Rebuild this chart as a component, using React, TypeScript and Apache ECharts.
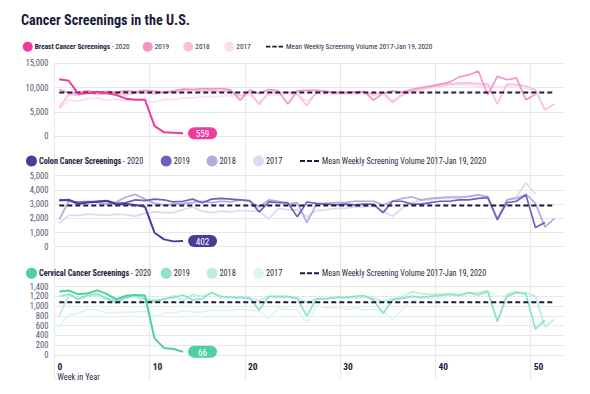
import React, { useEffect, useRef } from "react";
import * as echarts from "echarts";

const FONT = "'Roboto Condensed', 'Liberation Sans Narrow', 'DejaVu Sans Condensed', Roboto, sans-serif";
const NAVY = "#1d1a3c";
const TEXT = "#2a2745";
const GRID = "#e8e8ec";

const titleText = "Cancer Screenings in the U.S.";
const meanLabel = "Mean Weekly Screening Volume 2017-Jan 19, 2020";
const weekAxisTitle = "Week in Year";
const yearLabels = ["2020", "2019", "2018", "2017"];

// Breast cancer screenings (weekly)
const breast2020 = [11700, 11400, 8700, 8800, 9150, 8800, 8450, 7700, 7500, 7500, 2100, 750, 650, 559];
const breast2019 = [9600, 8900, 9000, 9300, 8900, 9200, 9000, 9300, 9100, 9400, 9200, 9000, 9300, 9700, 9600, 9800, 9700, 9800, 9500, 7400, 9500, 8700, 9600, 9300, 6600, 9300, 9400, 9400, 9200, 9000, 9000, 9100, 9200, 7400, 8800, 9300, 9000, 9600, 10000, 10300, 10700, 11100, 12200, 12600, 13400, 8500, 12300, 11600, 12000, 7500, 8600];
const breast2018 = [5900, 8600, 8400, 8900, 8600, 8700, 8800, 8500, 8900, 9000, 8700, 8900, 9100, 9300, 9500, 9300, 9400, 9200, 9300, 8300, 9000, 6500, 9100, 8800, 9100, 8600, 6300, 9100, 9200, 8900, 8800, 8900, 9100, 8600, 9000, 7100, 8600, 9200, 9700, 10100, 10400, 10700, 10900, 10900, 10800, 10700, 6600, 10700, 10600, 10300, 9500, 5400, 6600];
const breast2017 = [5600, 7400, 7200, 7700, 7800, 7400, 7600, 7300, 7500, 7500, 6900, 7600, 7500, 7800, 7900, 8100, 8000, 8200, 8400, 8300, 8300, 7100, 8500, 8400, 8700, 8600, 7200, 8700, 8700, 8600, 8700, 8700, 8800, 8400, 8700, 6800, 8300, 9000, 9500, 9900, 10200, 10500, 10600, 10500, 10400, 10300, 10200, 10200, 10100, 9800, 9300];
const breastMean = 8950;

// Colon cancer screenings (weekly)
const colon2020 = [3260, 3310, 3000, 3120, 3170, 3215, 2980, 3000, 2930, 2820, 985, 516, 375, 402];
const colon2019 = [3300, 3250, 3100, 3150, 3200, 3250, 3050, 3100, 3300, 3250, 3350, 3300, 3150, 3200, 3350, 3100, 3350, 3400, 3350, 3300, 3250, 2450, 3150, 3100, 3100, 2100, 3150, 3050, 3000, 2950, 3000, 2950, 3000, 3000, 2400, 3200, 3200, 3000, 3000, 3100, 3200, 3200, 3300, 3300, 3400, 3450, 1900, 3100, 3200, 3650, 1350, 1700];
const colon2018 = [1900, 3200, 3150, 3200, 3100, 3000, 3150, 3500, 3680, 3350, 3050, 2950, 3000, 3050, 3100, 3200, 3100, 3200, 3150, 3300, 3200, 2800, 3300, 3200, 3000, 3100, 1700, 3000, 3050, 3100, 3100, 3200, 3200, 3200, 2950, 3200, 3400, 3500, 3300, 3400, 3450, 3500, 3500, 3550, 3650, 3500, 1950, 3300, 3400, 3700, 3050, 1400, 2000];
const colon2017 = [1650, 2200, 2200, 2300, 2250, 2200, 2300, 2250, 2150, 2350, 2450, 2400, 2400, 2600, 2800, 2500, 2400, 2500, 2450, 2550, 2500, 2500, 1950, 2700, 2600, 2600, 2100, 2550, 2600, 2700, 2700, 2800, 2800, 2850, 2500, 2150, 2700, 3100, 3300, 3300, 3400, 3400, 3400, 3500, 3650, 3550, 2000, 3300, 3500, 4500, 3700];
const colonMean = 2900;

// Cervical cancer screenings (weekly)
const cervical2020 = [1300, 1320, 1245, 1265, 1325, 1250, 1140, 1215, 1230, 1220, 340, 143, 123, 66];
const cervical2019 = [1200, 1250, 1150, 1230, 1260, 1160, 1100, 1170, 1230, 1150, 1100, 1150, 1180, 1230, 1130, 1150, 1280, 1200, 1180, 1180, 1170, 920, 1200, 1200, 1200, 1160, 800, 1150, 1150, 1180, 1180, 1200, 1220, 1130, 850, 1130, 1160, 1200, 1180, 1200, 1220, 1240, 1220, 1280, 1230, 1300, 680, 1200, 1280, 1250, 530, 720];
const cervical2018 = [800, 1230, 1140, 1200, 1220, 1140, 1060, 1180, 1200, 1080, 1130, 1130, 1220, 1120, 1240, 1200, 1270, 1180, 1180, 1170, 1150, 1120, 1200, 1180, 1180, 1170, 1080, 1150, 1160, 1170, 1180, 1170, 1190, 1160, 1100, 1150, 1180, 1300, 1260, 1240, 1250, 1260, 1240, 1270, 1280, 1320, 690, 1250, 1300, 1270, 1200, 580, 730];
const cervical2017 = [580, 830, 850, 940, 920, 860, 870, 880, 880, 900, 780, 870, 860, 910, 880, 880, 920, 910, 910, 940, 920, 900, 750, 960, 940, 920, 650, 1000, 970, 960, 940, 960, 920, 940, 900, 720, 930, 1100, 1180, 1150, 1180, 1200, 1230, 1200, 1250, 1300, 1200, 1230, 1280, 1260, 1220];
const cervicalMean = 1080;

const panels = [
  {
    name: "Breast Cancer Screenings",
    years: [breast2020, breast2019, breast2018, breast2017],
    mean: breastMean,
    max: 15000,
    interval: 5000,
    colors: ["#ef3b9c", "#f592c8", "#f8bfdf", "#fbdff0"],
    top: 63.3,
    height: 72.7,
    legendY: 46.7,
    icon: 10,
    font: 7.3,
    iconLefts: [22.7, 142.7, 183.3, 224.3],
    dashLeft: 266,
    dashWidth: 17,
  },
  {
    name: "Colon Cancer Screenings",
    years: [colon2020, colon2019, colon2018, colon2017],
    mean: colonMean,
    max: 5000,
    interval: 1000,
    colors: ["#4a3d9a", "#6c61c1", "#b1acdd", "#dcd9f0"],
    top: 175.7,
    height: 71,
    legendY: 161,
    icon: 11,
    font: 8.2,
    iconLefts: [26, 160.7, 206.5, 253],
    dashLeft: 300,
    dashWidth: 19,
  },
  {
    name: "Cervical Cancer Screenings",
    years: [cervical2020, cervical2019, cervical2018, cervical2017],
    mean: cervicalMean,
    max: 1400,
    interval: 200,
    colors: ["#4ed1a0", "#8ee3c4", "#bdeedb", "#def7ed"],
    top: 286.7,
    height: 68.3,
    legendY: 273.3,
    icon: 11,
    font: 8.2,
    iconLefts: [26, 160.7, 206.5, 253],
    dashLeft: 300,
    dashWidth: 19,
  },
];

const LEFT = 54.5;
const RIGHT = 26;
const XMAX = 53.5;
const DASH_ICON = "path://M0,0h5v2h-5zM7,0h5v2h-5zM14,0h5v2h-5z";

function toPoints(values: number[]) {
  return values.map((v, i) => [i + 0.5, v]);
}

function buildOption() {
  const grid: any[] = [{ left: LEFT, right: RIGHT, top: 63, height: 317 }];
  const xAxis: any[] = [
    {
      type: "value",
      gridIndex: 0,
      min: 0,
      max: XMAX,
      interval: 10,
      axisLine: { show: false },
      axisTick: { show: false },
      axisLabel: { show: false },
      splitLine: { show: true, showMaxLine: false, lineStyle: { color: GRID, width: 1 } },
    },
  ];
  const yAxis: any[] = [{ type: "value", gridIndex: 0, min: 0, max: 1, show: false, splitLine: { show: false } }];
  const series: any[] = [];
  const legend: any[] = [];

  panels.forEach((p, k) => {
    const g = k + 1;
    grid.push({ left: LEFT, right: RIGHT, top: p.top, height: p.height });
    const isLast = k === panels.length - 1;
    xAxis.push({
      type: "value",
      gridIndex: g,
      min: 0,
      max: XMAX,
      interval: 10,
      axisLine: { show: false },
      axisTick: { show: false },
      splitLine: { show: false },
      axisLabel: isLast
        ? {
            show: true,
            showMaxLabel: false,
            align: "left",
            verticalAlign: "top",
            margin: 6,
            padding: [0, 0, 0, 3],
            formatter: (v: number) => (v === 0 ? `{v|0}\n{w|${weekAxisTitle}}` : `{v|${v}}`),
            rich: {
              v: { fontFamily: FONT, fontWeight: "bold", fontSize: 9.5, color: NAVY, lineHeight: 10.5 },
              w: { fontFamily: FONT, fontSize: 8.4, color: TEXT, lineHeight: 10.5 },
            },
          }
        : { show: false },
    });
    yAxis.push({
      type: "value",
      gridIndex: g,
      min: 0,
      max: p.max,
      interval: p.interval,
      axisLine: { show: false },
      axisTick: { show: false },
      axisLabel: {
        margin: 6,
        fontFamily: FONT,
        fontSize: 8.6,
        color: "#55536a",
        formatter: (v: number) => v.toLocaleString("en-US"),
      },
      splitLine: { show: true, lineStyle: { color: GRID, width: 1 } },
    });

    const names = yearLabels.map((y, j) => (j === 0 ? `${p.name} - ${y}` : `${p.name} ${y}`));
    for (let j = 3; j >= 1; j--) {
      series.push({
        type: "line",
        name: names[j],
        xAxisIndex: g,
        yAxisIndex: g,
        data: toPoints(p.years[j]),
        symbol: "none",
        lineStyle: { color: p.colors[j], width: 1.7 },
        itemStyle: { color: p.colors[j] },
        z: 2 + (3 - j),
      });
    }
    series.push({
      type: "line",
      name: meanLabel,
      xAxisIndex: g,
      yAxisIndex: g,
      data: [
        [0.5, p.mean],
        [52.5, p.mean],
      ],
      symbol: "none",
      lineStyle: { color: NAVY, width: 2, type: [5, 3] },
      itemStyle: { color: NAVY },
      z: 6,
    });
    series.push({
      type: "line",
      name: names[0],
      xAxisIndex: g,
      yAxisIndex: g,
      data: toPoints(p.years[0]),
      symbol: "none",
      lineStyle: { color: p.colors[0], width: 2 },
      itemStyle: { color: p.colors[0] },
      z: 7,
      endLabel: {
        show: true,
        formatter: (prm: any) => `{p|${prm.value[1]}}`,
        backgroundColor: p.colors[0],
        borderRadius: 6,
        padding: [1.5, 8, 1, 8],
        distance: 5,
        rich: {
          p: { width: 13, align: "center", color: "#ffffff", fontFamily: FONT, fontSize: 9.2, lineHeight: 9.5 },
        },
      },
    });

    names.forEach((nm, j) => {
      legend.push({
        left: p.iconLefts[j],
        top: p.legendY - p.icon / 2,
        padding: 0,
        itemGap: 0,
        itemWidth: p.icon,
        itemHeight: p.icon,
        icon: "circle",
        selectedMode: false,
        data: [nm],
        formatter: () => (j === 0 ? `{b|${p.name}}{r| - ${yearLabels[0]}}` : `{r|${yearLabels[j]}}`),
        textStyle: {
          padding: [0, 0, 0, -3],
          lineHeight: p.icon,
          rich: {
            b: { fontFamily: FONT, fontWeight: "bold", fontSize: p.font, color: NAVY, lineHeight: p.icon },
            r: { fontFamily: FONT, fontSize: p.font, color: TEXT, lineHeight: p.icon },
          },
        },
      });
    });
    legend.push({
      left: p.dashLeft,
      top: p.legendY - p.icon / 2,
      padding: 0,
      itemGap: 0,
      itemWidth: p.dashWidth,
      itemHeight: 2,
      icon: DASH_ICON,
      itemStyle: { color: NAVY },
      selectedMode: false,
      data: [meanLabel],
      textStyle: {
        fontFamily: FONT,
        fontSize: p.font,
        color: TEXT,
        lineHeight: p.icon,
        padding: [0, 0, 0, -2],
      },
    });
  });

  return {
    animation: false,
    backgroundColor: "#ffffff",
    title: {
      text: titleText,
      left: 21,
      top: 13,
      padding: 0,
      textStyle: { fontFamily: FONT, fontSize: 14.2, fontWeight: "bold", color: NAVY },
    },
    grid,
    xAxis,
    yAxis,
    legend,
    series,
  };
}

export default function App() {
  const ref = useRef<HTMLDivElement>(null);
  useEffect(() => {
    if (!ref.current) return;
    const chart = echarts.init(ref.current, null, { renderer: "svg" });
    chart.setOption(buildOption() as any);
    return () => chart.dispose();
  }, []);
  return <div ref={ref} style={{ position: "absolute", left: 0, top: 0, width: 590, height: 394 }} />;
}
